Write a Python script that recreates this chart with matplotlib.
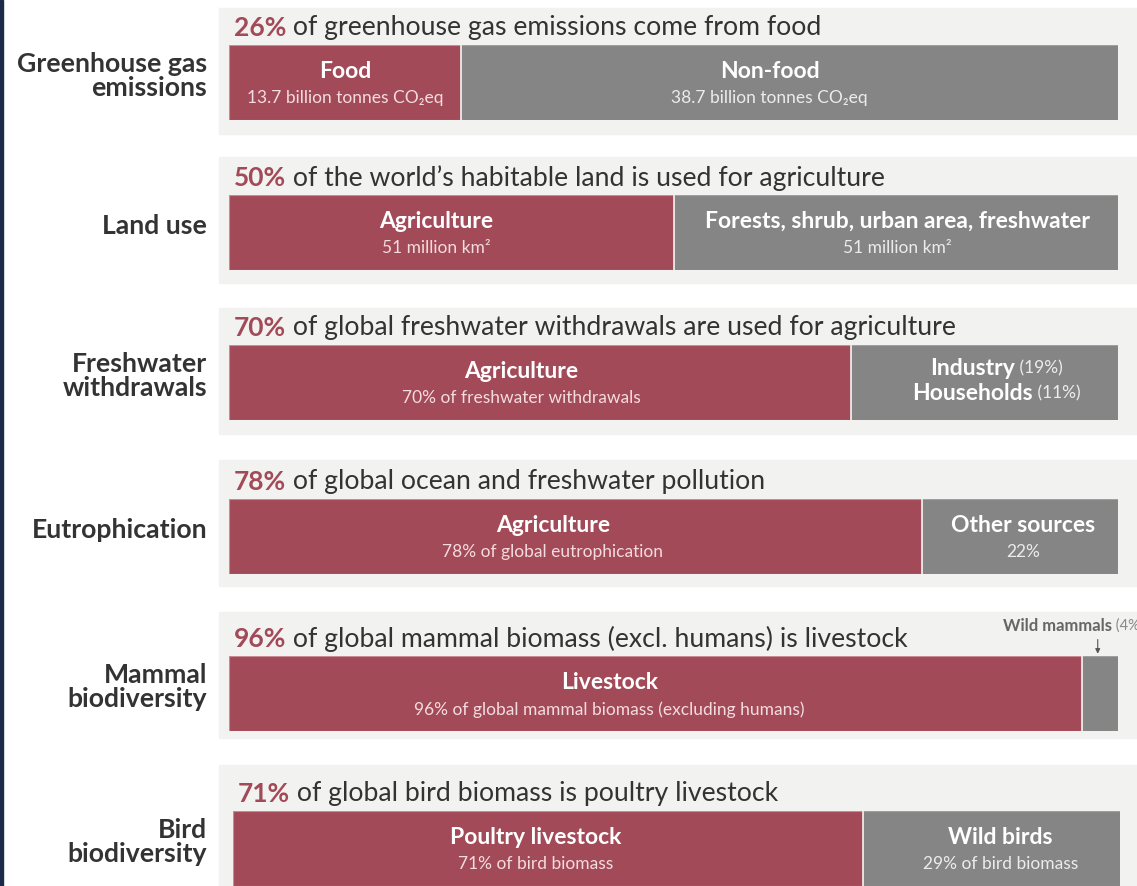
import matplotlib
matplotlib.use("Agg")
import matplotlib.pyplot as plt
from matplotlib.patches import Rectangle

plt.rcParams['font.family'] = ['Lato', 'DejaVu Sans']

# data
row_names = ["Greenhouse gas\nemissions", "Land use", "Freshwater\nwithdrawals",
             "Eutrophication", "Mammal\nbiodiversity", "Bird\nbiodiversity"]
headline_pct = ["26%", "50%", "70%", "78%", "96%", "71%"]
headline_rest = [" of greenhouse gas emissions come from food",
                 " of the world\u2019s habitable land is used for agriculture",
                 " of global freshwater withdrawals are used for agriculture",
                 " of global ocean and freshwater pollution",
                 " of global mammal biomass (excl. humans) is livestock",
                 " of global bird biomass is poultry livestock"]
ag_values = [13.7, 51, 70, 78, 96, 71]
other_values = [38.7, 51, 30, 22, 4, 29]
ag_labels = ["Food", "Agriculture", "Agriculture", "Agriculture", "Livestock", "Poultry livestock"]
ag_sub = ["13.7 billion tonnes CO\u2082eq", "51 million km\u00b2", "70% of freshwater withdrawals",
          "78% of global eutrophication", "96% of global mammal biomass (excluding humans)",
          "71% of bird biomass"]
other_labels = ["Non-food", "Forests, shrub, urban area, freshwater", None,
                "Other sources", None, "Wild birds"]
other_sub = ["38.7 billion tonnes CO\u2082eq", "51 million km\u00b2", None, "22%", None,
             "29% of bird biomass"]

RED = "#a34a58"
GREY = "#858585"
BG = "#f2f2f1"
DARK = "#333333"
SUBRED = "#f3dcdf"
SUBGREY = "#ececec"

W, H = 1137, 886
fig = plt.figure(figsize=(W / 100, H / 100), dpi=100)
fig.patch.set_facecolor("white")

# layout (pixels)
panel_tops = [8, 157, 308, 460, 612, 765]
bar_tops = [45, 195, 345, 499, 656, 811]
bar_x = [229, 229, 229, 229, 229, 233]
bar_w = [889, 889, 889, 889, 889, 887]
bar_h = 75
# label nudges from the segment centre, in pixels
ag_nudge = [0, -15, -19, -23, -46, -12]
other_nudge = [-20, 2, 12, 3, 0, 9]

MAIN_FS = 16.5
SUB_FS = 12.5


def fx(px):
    return px / W


def fy(py):
    return 1 - py / H


def rend():
    fig.canvas.draw()
    return fig.canvas.get_renderer()


# left navy line
fig.patches.append(Rectangle((0, 0), fx(2.5), 1, transform=fig.transFigure,
                             color="#1c2a4a", zorder=-1))

for i in range(len(row_names)):
    pt = panel_tops[i]
    pb = min(pt + 126, H)
    fig.patches.append(Rectangle((fx(219), fy(pb)), fx(W - 219), (pb - pt) / H,
                                 transform=fig.transFigure, color=BG, zorder=-1))

    # headline
    ty = fy(bar_tops[i] - 17)
    t = fig.text(fx(bar_x[i] + 5), ty, headline_pct[i], color=RED,
                 fontsize=19, fontweight="bold", va="center", ha="left")
    bb = t.get_window_extent(renderer=rend())
    fig.text(bb.x1 / W, ty, headline_rest[i], color=DARK,
             fontsize=19.2, va="center", ha="left")

    # left label
    fig.text(fx(207), fy(bar_tops[i] + 31), row_names[i], color=DARK, fontsize=19.2,
             fontweight="bold", ha="right", va="center", linespacing=1.0)

    # bar axes
    ax = fig.add_axes([fx(bar_x[i]), fy(bar_tops[i] + bar_h), fx(bar_w[i]), bar_h / H])
    total = ag_values[i] + other_values[i]
    ax.barh(0, ag_values[i], left=0, height=1, color=RED, edgecolor="#c98a93", linewidth=0.8)
    ax.barh(0, other_values[i], left=ag_values[i], height=1, color=GREY,
            edgecolor="#a0a0a0", linewidth=0.8)
    ax.axvline(ag_values[i], color="#f4f0f0", linewidth=1.2)
    ax.set_xlim(0, total)
    ax.set_ylim(-0.5, 0.5)
    ax.axis("off")

    per_px = total / bar_w[i]
    cx = ag_values[i] / 2 + ag_nudge[i] * per_px
    ax.text(cx, 0.15, ag_labels[i], color="white", fontsize=MAIN_FS, fontweight="bold",
            ha="center", va="center")
    ax.text(cx, -0.21, ag_sub[i], color=SUBRED, fontsize=SUB_FS, ha="center", va="center")

    ox = ag_values[i] + other_values[i] / 2 + other_nudge[i] * per_px
    if other_labels[i] is not None:
        ax.text(ox, 0.15, other_labels[i], color="white", fontsize=MAIN_FS, fontweight="bold",
                ha="center", va="center")
        ax.text(ox, -0.21, other_sub[i], color=SUBGREY, fontsize=SUB_FS, ha="center", va="center")

    if i == 2:
        for yy, name, pct in [(0.19, "Industry", " (19%)"), (-0.15, "Households", " (11%)")]:
            a = ax.text(ox, yy, name, color="white", fontsize=MAIN_FS, fontweight="bold",
                        ha="right", va="center")
            b = ax.text(ox, yy, pct, color=SUBGREY, fontsize=SUB_FS, ha="left", va="center")
            r = rend()
            wa = a.get_window_extent(r).width
            wb = b.get_window_extent(r).width
            shift = (wa - wb) / 2
            # move both so the pair is centred on ox
            disp = ax.transData.transform((ox, 0))
            newx = ax.transData.inverted().transform((disp[0] + shift, 0))[0]
            a.set_x(newx)
            b.set_x(newx)

    if i == 4:
        # annotation for the thin wild mammal segment
        tip = ag_values[i] + other_values[i] * 0.43
        ax.annotate("", xy=(tip, 0.53), xytext=(tip, 0.72), annotation_clip=False,
                    arrowprops=dict(arrowstyle="-|>", color="#555555", lw=0.8,
                                    mutation_scale=7, shrinkA=0, shrinkB=0))
        wt = fig.text(fx(1003), fy(626), "Wild mammals", color="#666666", fontsize=12,
                      fontweight="bold", ha="left", va="center")
        wbb = wt.get_window_extent(renderer=rend())
        fig.text(wbb.x1 / W, fy(626), " (4%)", color="#888888", fontsize=10.5,
                 ha="left", va="center")

fig.savefig("out.png", dpi=100, facecolor="white")
